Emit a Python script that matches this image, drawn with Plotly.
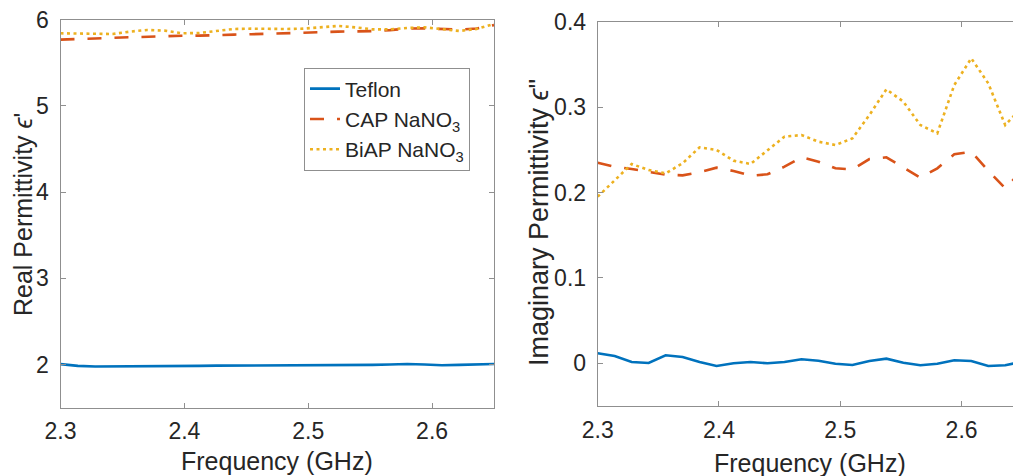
import plotly.graph_objects as go

# Frequency grid (GHz)
freq = [2.300, 2.314, 2.328, 2.342, 2.356, 2.370, 2.384, 2.398, 2.412, 2.426,
        2.440, 2.454, 2.468, 2.482, 2.496, 2.510, 2.524, 2.538, 2.552, 2.566,
        2.580, 2.594, 2.608, 2.622, 2.636, 2.650]

# Real permittivity
teflon_real = [2.005, 1.985, 1.978, 1.978, 1.981, 1.985, 1.981, 1.978, 1.985, 1.988,
               1.988, 1.988, 1.992, 1.992, 1.992, 1.996, 1.996, 1.992, 1.996, 2.000,
               2.007, 2.000, 1.992, 1.996, 2.003, 2.007]
cap_real = [5.767, 5.770, 5.780, 5.788, 5.794, 5.805, 5.809, 5.812, 5.813, 5.815,
            5.825, 5.829, 5.834, 5.836, 5.840, 5.853, 5.860, 5.863, 5.865, 5.877,
            5.895, 5.897, 5.890, 5.884, 5.895, 5.935]
biap_real = [5.840, 5.836, 5.832, 5.832, 5.859, 5.879, 5.871, 5.840, 5.844, 5.867,
             5.890, 5.894, 5.890, 5.890, 5.894, 5.906, 5.925, 5.909, 5.886, 5.886,
             5.902, 5.909, 5.890, 5.867, 5.890, 5.948]

# Imaginary permittivity
teflon_imag = [0.0117, 0.0085, 0.0015, 0.0003, 0.0094, 0.0074, 0.0015, -0.0032, 0.0000, 0.0015,
               0.0000, 0.0015, 0.0047, 0.0030, -0.0005, -0.0020, 0.0027, 0.0054, 0.0007, -0.0023,
               -0.0005, 0.0035, 0.0027, -0.0032, -0.0023, 0.0020]
cap_imag = [0.2349, 0.2302, 0.2275, 0.2240, 0.2209, 0.2201, 0.2237, 0.2291, 0.2252, 0.2197,
            0.2213, 0.2302, 0.2412, 0.2361, 0.2283, 0.2271, 0.2392, 0.2412, 0.2291, 0.2174,
            0.2283, 0.2447, 0.2478, 0.2256, 0.2049, 0.2260]
biap_imag = [0.1951, 0.2146, 0.2334, 0.2263, 0.2224, 0.2342, 0.2529, 0.2498, 0.2373, 0.2334,
             0.2498, 0.2654, 0.2673, 0.2595, 0.2556, 0.2634, 0.2907, 0.3208, 0.3064, 0.2790,
             0.2693, 0.3259, 0.3571, 0.3278, 0.2790, 0.3000]

series_names = ["Teflon", "CAP NaNO<sub>3</sub>", "BiAP NaNO<sub>3</sub>"]
x_ticks = [2.3, 2.4, 2.5, 2.6]
x_tick_text = ["2.3", "2.4", "2.5", "2.6"]
real_ticks = [2, 3, 4, 5, 6]
imag_ticks = [0, 0.1, 0.2, 0.3, 0.4]
imag_tick_text = ["0", "0.1", "0.2", "0.3", "0.4"]

W, H = 1013, 476
FONT = "Liberation Sans, Arial, Helvetica, sans-serif"
TEXT = "#262626"
AXIS = "#8f8f8f"
COLORS = ["#0072BD", "#D95319", "#EDB120"]
DASHES = ["solid", "14px,13px", "3px,3.5px"]


def px_x(p):
    return p / W


def px_y(p):
    return 1 - p / H


fig = go.Figure()

real_sets = [teflon_real, cap_real, biap_real]
imag_sets = [teflon_imag, cap_imag, biap_imag]
for k in range(3):
    fig.add_trace(go.Scatter(
        x=freq, y=real_sets[k], mode="lines", name=series_names[k],
        line=dict(color=COLORS[k], width=2.6, dash=DASHES[k]),
        xaxis="x", yaxis="y", showlegend=True))
for k in range(3):
    fig.add_trace(go.Scatter(
        x=freq, y=imag_sets[k], mode="lines", name=series_names[k],
        line=dict(color=COLORS[k], width=2.6, dash=DASHES[k]),
        xaxis="x2", yaxis="y2", showlegend=False))

common_axis = dict(
    showgrid=False, zeroline=False, showline=True, linecolor=AXIS, linewidth=1,
    ticks="inside", ticklen=5, tickwidth=1, tickcolor=AXIS, automargin=False,
    tickfont=dict(family=FONT, size=23, color=TEXT),
)

fig.update_layout(
    width=W, height=H,
    margin=dict(l=0, r=0, t=0, b=0, autoexpand=False),
    paper_bgcolor="white", plot_bgcolor="white",
    xaxis=dict(domain=[px_x(60.5), px_x(494)], range=[2.3, 2.65],
               tickvals=x_ticks, ticktext=x_tick_text,
               mirror="ticks", anchor="y", ticklabelstandoff=3, **common_axis),
    yaxis=dict(domain=[px_y(407.7), px_y(19.5)], range=[1.5, 6],
               tickvals=real_ticks, mirror="ticks", anchor="x",
               ticklabelstandoff=6, **common_axis),
    xaxis2=dict(domain=[px_x(597.7), 1.0], range=[2.3, 2.6424],
                tickvals=x_ticks, ticktext=x_tick_text,
                mirror="ticks", anchor="y2", ticklabelstandoff=3, **common_axis),
    yaxis2=dict(domain=[px_y(406), px_y(21.7)], range=[-0.05, 0.4],
                tickvals=imag_ticks, ticktext=imag_tick_text,
                mirror=False, anchor="x2", ticklabelstandoff=6, **common_axis),
    legend=dict(
        x=px_x(304), y=px_y(67.5), xanchor="left", yanchor="top",
        bgcolor="white", bordercolor=AXIS, borderwidth=1,
        font=dict(family=FONT, size=21, color=TEXT),
        tracegroupgap=0,
    ),
    showlegend=True,
)

title_font = dict(family=FONT, size=25, color=TEXT)
annotations = [
    dict(text="Frequency (GHz)", x=px_x(277), y=px_y(461), xref="paper", yref="paper",
         xanchor="center", yanchor="middle", showarrow=False, font=title_font),
    dict(text="Frequency (GHz)", x=px_x(810), y=px_y(463), xref="paper", yref="paper",
         xanchor="center", yanchor="middle", showarrow=False, font=title_font),
    dict(text="Real Permittivity <i>ϵ</i>'", x=px_x(23), y=px_y(215), xref="paper",
         yref="paper", xanchor="center", yanchor="middle", textangle=-90,
         showarrow=False, font=title_font),
    dict(text="Imaginary Permittivity <i>ϵ</i>\"", x=px_x(539), y=px_y(223), xref="paper",
         yref="paper", xanchor="center", yanchor="middle", textangle=-90,
         showarrow=False, font=dict(family=FONT, size=27, color=TEXT)),
]
fig.update_layout(annotations=annotations)

fig.write_html("out.html")
